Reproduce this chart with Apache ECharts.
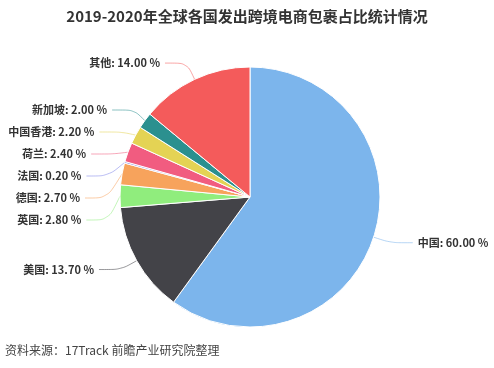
<!DOCTYPE html>
<html><head><meta charset="utf-8">
<script src="https://cdn.jsdelivr.net/npm/echarts@6/dist/echarts.min.js"></script>
<style>html,body{margin:0;padding:0;background:#fff}#c{width:494px;height:368px}</style>
</head><body><div id="c"></div>
<script>
const titleText = '2019-2020年全球各国发出跨境电商包裹占比统计情况';
const sourceText = '资料来源：17Track 前瞻产业研究院整理';
const categories = ['中国','美国','英国','德国','法国','荷兰','中国香港','新加坡','其他'];
const values = [60.00,13.70,2.80,2.70,0.20,2.40,2.20,2.00,14.00];
const colors = ['#7cb5ec','#434348','#90ed7d','#f7a35c','#8085e9','#f15c80','#e4d354','#2b908f','#f45b5b'];

const chart = echarts.init(document.getElementById('c'));
chart.setOption({
  backgroundColor:'#fff',
  animation:false,
  title:{text:titleText,left:'center',top:4,textStyle:{fontFamily:'Noto Sans CJK SC',fontSize:15,fontWeight:'bold',color:'#333'}},
  graphic:[{type:'text',left:5,top:344,style:{text:sourceText,fontFamily:'Noto Sans CJK SC',fontSize:12,fill:'#444'}}],
  series:[{
    type:'pie',
    center:[250,197],
    radius:130,
    startAngle:90,
    clockwise:true,
    color:colors,
    itemStyle:{borderColor:'#fff',borderWidth:1},
    label:{
      formatter:p=>p.name+': '+p.value.toFixed(2)+' %',
      fontFamily:'Noto Sans CJK SC',fontSize:11,fontWeight:'bold',color:'#333',
      lineHeight:20,overflow:'none'
    },
    labelLine:{length:18,length2:22,smooth:0.3,lineStyle:{width:1,opacity:0.55}},
    data:categories.map((c,i)=>({name:c,value:values[i]}))
  }]
});
</script></body></html>
